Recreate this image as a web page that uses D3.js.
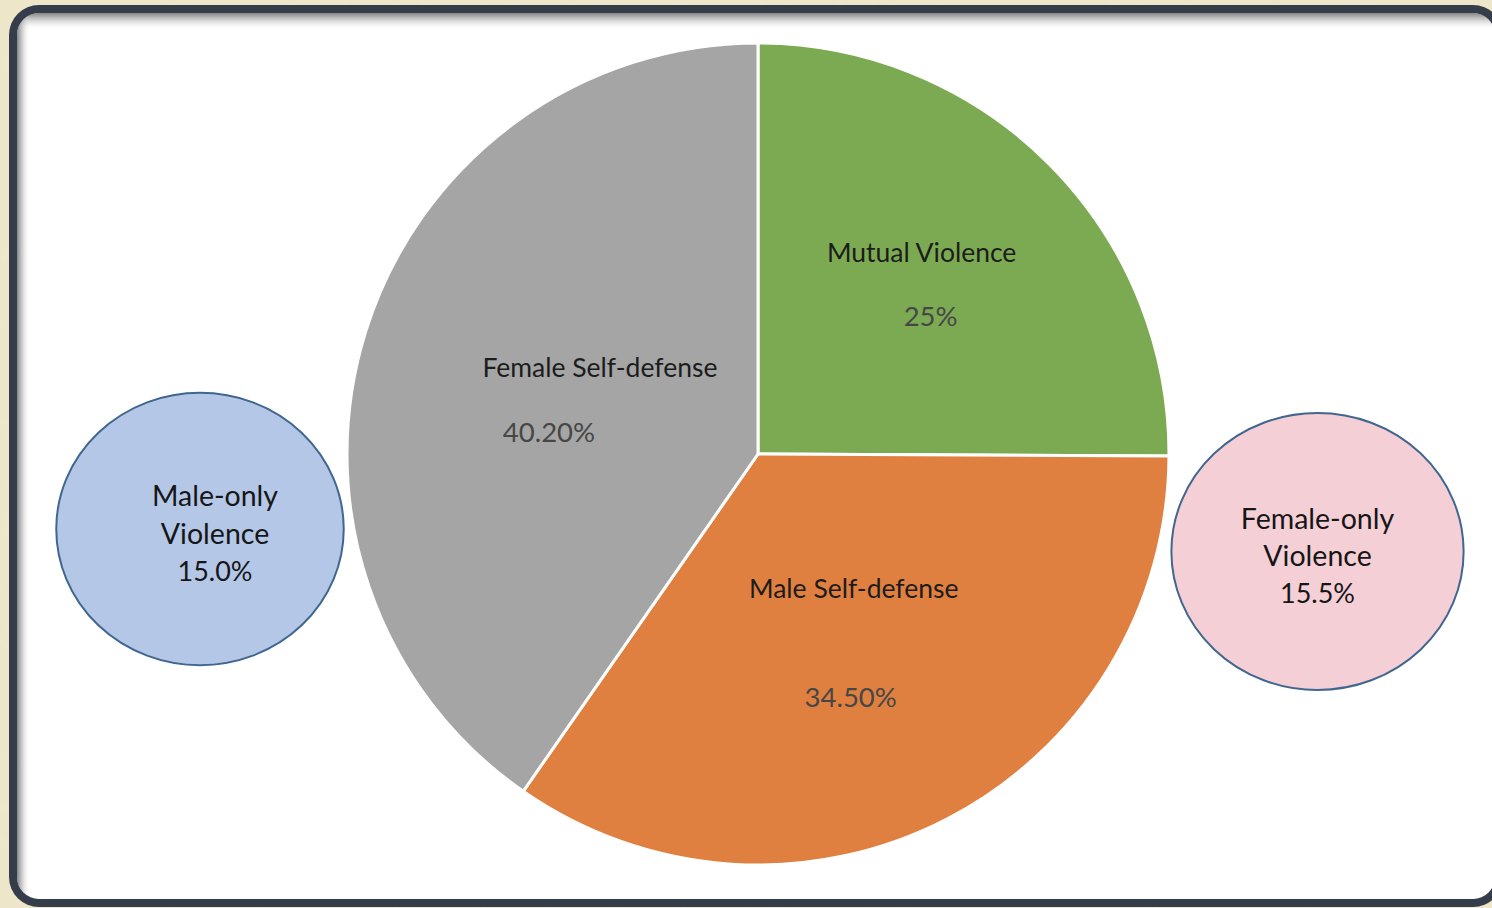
<!DOCTYPE html>
<html>
<head>
<meta charset="utf-8">
<script src="https://cdn.jsdelivr.net/npm/d3@7"></script>
<style>
  html, body { margin: 0; padding: 0; background: #ebe4c6; }
  svg { display: block; }
</style>
</head>
<body>
<svg id="chart" width="1492" height="908"></svg>
<script>
// Mixed-violence pie: the central pie splits mutual and self-defence cases,
// the two bubbles at the sides show the one-sided shares.
const categories = ["Mutual Violence", "Male Self-defense", "Female Self-defense"];
const shares = [25, 34.5, 40.2];
const shareLabels = ["25%", "34.50%", "40.20%"];

const sideCategories = [["Male-only", "Violence"], ["Female-only", "Violence"]];
const sideShares = [15.0, 15.5];
const sideLabels = ["15.0%", "15.5%"];

const W = 1492, H = 908;
const svg = d3.select("#chart");
const defs = svg.append("defs");

// ---- background paper texture ----
const tex = defs.append("filter").attr("id", "paper").attr("x", 0).attr("y", 0).attr("width", 1).attr("height", 1);
tex.append("feTurbulence").attr("type", "fractalNoise").attr("baseFrequency", 0.06).attr("numOctaves", 3).attr("seed", 4).attr("result", "noise");
tex.append("feColorMatrix").attr("in", "noise").attr("type", "matrix")
  .attr("values", "0 0 0 0 0.86  0 0 0 0 0.82  0 0 0 0 0.66  0 0 0 0.55 0").attr("result", "tint");
tex.append("feComposite").attr("in", "tint").attr("in2", "SourceGraphic").attr("operator", "over");

svg.append("rect").attr("width", W).attr("height", H).attr("fill", "#eee6c8");
svg.append("rect").attr("width", W).attr("height", H).attr("fill", "#eee6c8").attr("filter", "url(#paper)").attr("opacity", 0.6);

// ---- framed panel ----
const frame = { x: 9, y: 5, w: 1494, h: 902, r: 30, border: 8 };
svg.append("rect")
  .attr("x", frame.x).attr("y", frame.y).attr("width", frame.w).attr("height", frame.h)
  .attr("rx", frame.r).attr("fill", "#343d49");

const inner = {
  x: frame.x + frame.border, y: frame.y + frame.border,
  w: frame.w - 2 * frame.border, h: frame.h - 2 * frame.border, r: frame.r - frame.border
};
defs.append("clipPath").attr("id", "panelClip").append("rect")
  .attr("x", inner.x).attr("y", inner.y).attr("width", inner.w).attr("height", inner.h).attr("rx", inner.r);

svg.append("rect")
  .attr("x", inner.x).attr("y", inner.y).attr("width", inner.w).attr("height", inner.h)
  .attr("rx", inner.r).attr("fill", "#ffffff");

// inner shadow fading in from the top and left edges of the panel
const shadowTop = defs.append("linearGradient").attr("id", "shadowTop")
  .attr("x1", 0).attr("y1", 0).attr("x2", 0).attr("y2", 1);
shadowTop.append("stop").attr("offset", 0).attr("stop-color", "#5a5a5a").attr("stop-opacity", 0.75);
shadowTop.append("stop").attr("offset", 0.45).attr("stop-color", "#8a8a8a").attr("stop-opacity", 0.35);
shadowTop.append("stop").attr("offset", 1).attr("stop-color", "#ffffff").attr("stop-opacity", 0);

const shadowLeft = defs.append("linearGradient").attr("id", "shadowLeft")
  .attr("x1", 0).attr("y1", 0).attr("x2", 1).attr("y2", 0);
shadowLeft.append("stop").attr("offset", 0).attr("stop-color", "#5a5a5a").attr("stop-opacity", 0.75);
shadowLeft.append("stop").attr("offset", 0.45).attr("stop-color", "#8a8a8a").attr("stop-opacity", 0.35);
shadowLeft.append("stop").attr("offset", 1).attr("stop-color", "#ffffff").attr("stop-opacity", 0);

const gShadow = svg.append("g").attr("clip-path", "url(#panelClip)");
gShadow.append("rect")
  .attr("x", inner.x).attr("y", inner.y).attr("width", inner.w).attr("height", 17)
  .attr("fill", "url(#shadowTop)");
gShadow.append("rect")
  .attr("x", inner.x).attr("y", inner.y).attr("width", 13).attr("height", inner.h)
  .attr("fill", "url(#shadowLeft)");

// ---- central pie ----
const cx = 758, cy = 454, R = 411;
const pieColors = d3.scaleOrdinal().domain(categories).range(["#7caa53", "#e08040", "#a5a5a5"]);

const pie = d3.pie().sort(null).value(d => d);
const arcs = pie(shares);
const arc = d3.arc().innerRadius(0).outerRadius(R);
const labelArc = d3.arc().innerRadius(R * 0.5).outerRadius(R * 0.5);

const gPie = svg.append("g").attr("transform", `translate(${cx},${cy})`);
gPie.selectAll("path.slice")
  .data(arcs)
  .join("path")
  .attr("class", "slice")
  .attr("d", arc)
  .attr("fill", (d, i) => pieColors(categories[i]))
  .attr("stroke", "#ffffff")
  .attr("stroke-width", 3)
  .attr("stroke-linejoin", "round");

// label placement relative to each slice's mid-radius centroid
const labelOffsets = [
  { name: [18, -57], value: [27, 6] },
  { name: [1, -48], value: [-2, 60] },
  { name: [38, -25], value: [-13, 39] }
];
const fontFamily = "Lato, 'Open Sans', 'DejaVu Sans', sans-serif";

arcs.forEach((d, i) => {
  const [mx, my] = labelArc.centroid(d);
  const off = labelOffsets[i];
  gPie.append("text")
    .attr("x", mx + off.name[0]).attr("y", my + off.name[1])
    .attr("text-anchor", "middle").attr("dominant-baseline", "central")
    .attr("font-family", fontFamily).attr("font-size", 26.5)
    .attr("fill", "#1c1c1c")
    .text(categories[i]);
  gPie.append("text")
    .attr("x", mx + off.value[0]).attr("y", my + off.value[1])
    .attr("text-anchor", "middle").attr("dominant-baseline", "central")
    .attr("font-family", fontFamily).attr("font-size", 27.5)
    .attr("fill", "#474747")
    .text(shareLabels[i]);
});

// ---- side bubbles ----
const bubbleR = d3.scaleSqrt().domain([0, 15.5]).range([0, 138.5]);
const bubbleAspect = 1.055;
const bubbleCenters = [[200, 529], [1317.5, 551.5]];
const bubbleFills = ["#b4c7e7", "#f5cfd6"];

const gSide = svg.append("g");
sideShares.forEach((v, i) => {
  const [bx, by] = bubbleCenters[i];
  const r = bubbleR(v);
  gSide.append("ellipse")
    .attr("cx", bx).attr("cy", by)
    .attr("rx", r * bubbleAspect).attr("ry", r)
    .attr("fill", bubbleFills[i])
    .attr("stroke", "#41668f").attr("stroke-width", 2);

  const lines = sideCategories[i].concat([sideLabels[i]]);
  const lineGap = 37.5;
  const textX = bx + (i === 0 ? 15 : 0);
  const textY0 = by - 34;
  lines.forEach((ln, k) => {
    gSide.append("text")
      .attr("x", textX).attr("y", textY0 + k * lineGap)
      .attr("text-anchor", "middle").attr("dominant-baseline", "central")
      .attr("font-family", fontFamily).attr("font-size", k < 2 ? 28.5 : 27)
      .attr("fill", "#161616")
      .text(ln);
  });
});
</script>
</body>
</html>
